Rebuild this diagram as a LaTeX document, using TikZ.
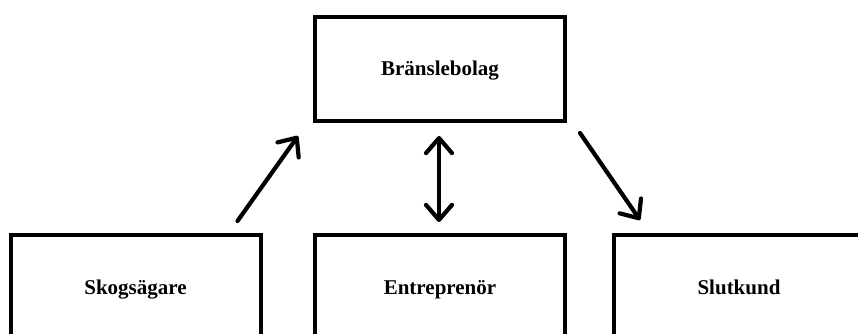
\documentclass[tikz,border=0pt]{standalone}
\usepackage{fontspec}
\setmainfont{Liberation Serif}
\usetikzlibrary{arrows.meta,calc}
\begin{document}
\begin{tikzpicture}[x=1pt,y=-1pt,
  box/.style={draw=black, line width=4pt, fill=white, minimum width=250pt,
    minimum height=104pt, inner sep=0pt, text height=14pt, text depth=0pt,
    font=\fontsize{21}{25}\selectfont\bfseries},
  barb/.tip={Straight Barb[length=15pt,width=26pt,line join=round,line cap=round]},
  flow/.style={line width=4.2pt, line cap=round, line join=round, -barb},
  twoway/.style={flow, barb-barb}]
  \useasboundingbox (0,0) rectangle (858,334);
  \clip (0,0) rectangle (858,334);
  \fill[white] (0,0) rectangle (858,334);

  % actors
  \node[box] (fuel) at (440,69)  {Bränslebolag};
  \node[box] (owner) at (135.5,287) {Skogsägare};
  \node[box] (contr) at (440,287) {Entreprenör};
  \node[box] (cust) at (739,287) {Slutkund};

  % relations
  \draw[flow] ($(owner.north east)+(-25,-12)$) -- ($(fuel.south west)+(-15,13)$);
  \draw[twoway] ($(fuel.south)+(-1,13)$) -- ($(contr.north)+(-1,-11)$);
  \draw[flow] ($(fuel.south east)+(13,10)$) -- ($(cust.north west)+(28,-13)$);
\end{tikzpicture}
\end{document}
